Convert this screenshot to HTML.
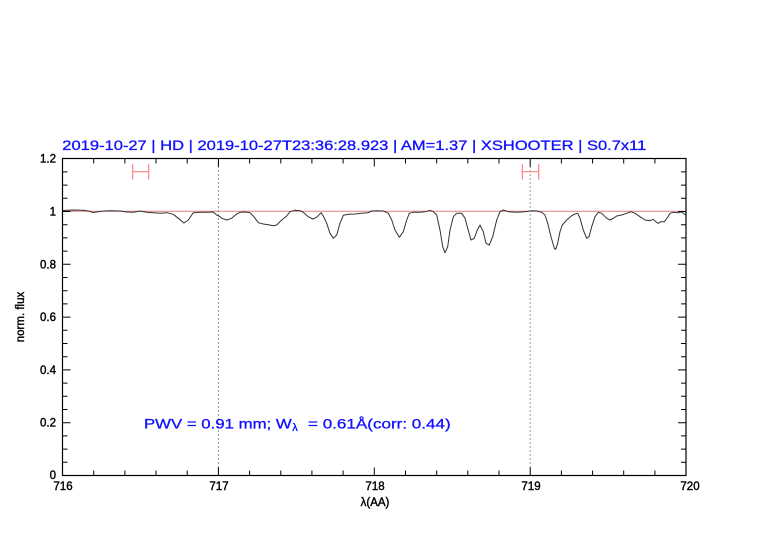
<!DOCTYPE html>
<html>
<head>
<meta charset="utf-8">
<style>
html,body{margin:0;padding:0;background:#fff;}
svg{display:block;}
text{font-family:"Liberation Sans",Arial,sans-serif;}
</style>
</head>
<body>
<svg width="782" height="542" viewBox="0 0 782 542" xmlns="http://www.w3.org/2000/svg">
<rect width="782" height="542" fill="#fff"/>

<!-- title -->
<text x="62.3" y="150" font-size="14" fill="#1010ff" stroke="#1010ff" stroke-width="0.3" textLength="584" lengthAdjust="spacingAndGlyphs">2019-10-27 | HD | 2019-10-27T23:36:28.923 | AM=1.37 | XSHOOTER | S0.7x11</text>

<!-- reference line y=1 -->
<line x1="62.5" y1="211.3" x2="686" y2="211.3" stroke="#e08080" stroke-width="1"/>

<!-- dotted verticals -->
<line x1="218.4" y1="158.5" x2="218.4" y2="475.5" stroke="#333" stroke-width="1" stroke-dasharray="1,3"/>
<line x1="530.2" y1="158.5" x2="530.2" y2="475.5" stroke="#333" stroke-width="1" stroke-dasharray="1,3"/>

<!-- red markers -->
<g stroke="#ff8080" stroke-width="1.2" fill="none">
<line x1="132.7" y1="164.3" x2="132.7" y2="179.5"/>
<line x1="148.7" y1="164.3" x2="148.7" y2="179.5"/>
<line x1="132.7" y1="171.7" x2="148.7" y2="171.7"/>
<line x1="522.3" y1="164.3" x2="522.3" y2="179.5"/>
<line x1="538.7" y1="164.3" x2="538.7" y2="179.5"/>
<line x1="522.3" y1="171.7" x2="538.7" y2="171.7"/>
</g>

<!-- spectrum -->
<polyline fill="none" stroke="#333" stroke-width="1" stroke-linejoin="round" points="62.7,210.6 66.7,210.3 73.3,210 83.3,210.2 88.3,211 93.3,212.5 98.3,211.7 103.3,211 110,210.7 120,211 126.7,212 133.3,212.3 140,211 146.7,212.3 153.3,212.7 160,213.3 166.7,212.7 173.3,214.3 178.3,218.3 184,223 188.3,220 193.3,212.7 200,212.3 206.7,212.3 213.3,212 216.7,215 220,216.7 221.7,218.3 226.7,220 231.7,218.3 236.7,214 240,212.3 245,212 250,212.7 253.3,216 258.3,222.7 263.3,224 268.3,224.7 273.3,225.7 276.7,225 281.7,220 286.7,216 290,211.7 295,210.3 300,210.7 303.3,212.3 308.3,216.7 312.7,219 316.7,217.3 321,212.7 323.3,216 326.7,223.3 330,233.3 333.3,238.3 336.7,235 340,223.3 343.3,215.3 348.3,214.3 355,214 361.7,213.3 368.3,212.7 371.7,211 376.7,210.7 383.3,211 388.3,213.3 391.7,220 395,230 399.3,237.3 403.3,231.7 406.7,220 409.3,213.3 413.3,212.3 420,212.3 425,211.7 430,210.3 433.3,211.7 436.7,215 440,230 442.7,246.7 445,252.7 447.7,246.7 450,230 453.3,216.7 456.7,213.3 461.7,213.3 465,218.3 467.7,228.3 471,240 474.3,238.3 477.3,230 480,225 483.3,231.7 486,243.3 489.3,245 492.7,236.7 496.7,220 500,211.7 503.3,210 508.3,211.7 516.7,212.3 525,211.7 531.7,210.7 536.7,211 541.7,212.3 545,215 547.7,223.3 551,236.7 554.3,248.3 555.7,249.3 557.7,243.3 560,231.7 562.3,225 566.7,220 571.7,215.7 575,214 577.7,213.3 580,218.3 583.3,230 586.7,238.3 589,236.7 591.7,226.7 595,216.7 598.3,212.3 601.7,213.3 606.7,218.3 610,220 613.3,218.3 616.7,216 621.7,215 626.7,213.3 631,211.7 635,213.3 640,216.7 645,220 650,220.7 653.3,219.3 655.7,221.7 658.3,223.3 661,221.7 664.3,221.7 667.7,217.3 670,213.3 673.3,212.3 678.3,212.7 681.7,212 684.3,214 686,215"/>

<!-- frame -->
<rect x="62.5" y="158.5" width="623.5" height="317" fill="none" stroke="#000" stroke-width="1.2"/>

<!-- ticks -->
<g stroke="#000" stroke-width="1">
<path d="M93.7 475.5v-5M124.9 475.5v-5M156.0 475.5v-5M187.2 475.5v-5
M249.6 475.5v-5M280.8 475.5v-5M311.9 475.5v-5M343.1 475.5v-5
M405.5 475.5v-5M436.7 475.5v-5M467.8 475.5v-5M499.0 475.5v-5
M561.4 475.5v-5M592.6 475.5v-5M623.7 475.5v-5M654.9 475.5v-5
M218.4 475.5v-8M374.3 475.5v-8M530.2 475.5v-8"/>
<path d="M93.7 158.5v5M124.9 158.5v5M156.0 158.5v5M187.2 158.5v5
M249.6 158.5v5M280.8 158.5v5M311.9 158.5v5M343.1 158.5v5
M405.5 158.5v5M436.7 158.5v5M467.8 158.5v5M499.0 158.5v5
M561.4 158.5v5M592.6 158.5v5M623.7 158.5v5M654.9 158.5v5
M218.4 158.5v8M374.3 158.5v8M530.2 158.5v8"/>
<path d="M62.5 462.3h5M62.5 449.1h5M62.5 435.9h5
M62.5 409.5h5M62.5 396.3h5M62.5 383.1h5
M62.5 356.7h5M62.5 343.5h5M62.5 330.3h5
M62.5 303.9h5M62.5 290.7h5M62.5 277.5h5
M62.5 251.1h5M62.5 237.9h5M62.5 224.7h5
M62.5 198.3h5M62.5 185.1h5M62.5 171.9h5
M62.5 422.7h8M62.5 369.9h8M62.5 317.1h8M62.5 264.3h8M62.5 211.5h8"/>
<path d="M686 462.3h-5M686 449.1h-5M686 435.9h-5
M686 409.5h-5M686 396.3h-5M686 383.1h-5
M686 356.7h-5M686 343.5h-5M686 330.3h-5
M686 303.9h-5M686 290.7h-5M686 277.5h-5
M686 251.1h-5M686 237.9h-5M686 224.7h-5
M686 198.3h-5M686 185.1h-5M686 171.9h-5
M686 422.7h-8M686 369.9h-8M686 317.1h-8M686 264.3h-8M686 211.5h-8"/>
</g>

<!-- y tick labels -->
<g font-size="11.5" fill="#000" stroke="#000" stroke-width="0.4" text-anchor="end">
<text x="56" y="479">0</text>
<text x="56" y="426.7">0.2</text>
<text x="56" y="373.9">0.4</text>
<text x="56" y="321.1">0.6</text>
<text x="56" y="268.3">0.8</text>
<text x="56" y="215.5">1</text>
<text x="56" y="162.7">1.2</text>
</g>

<!-- x tick labels -->
<g font-size="11.5" fill="#000" stroke="#000" stroke-width="0.4" text-anchor="middle">
<text x="63" y="490">716</text>
<text x="219" y="490">717</text>
<text x="375" y="490">718</text>
<text x="531" y="490">719</text>
<text x="690" y="490">720</text>
</g>

<!-- axis labels -->
<text x="375" y="506" font-size="11.5" fill="#000" stroke="#000" stroke-width="0.4" text-anchor="middle">λ(AA)</text>
<text x="0" y="0" font-size="11.5" fill="#000" stroke="#000" stroke-width="0.4" text-anchor="middle" transform="translate(24,317) rotate(-90)">norm. flux</text>

<!-- PWV annotation -->
<g fill="#1010ff" stroke="#1010ff" stroke-width="0.3" font-size="14">
<text x="144" y="428.3" textLength="147.7" lengthAdjust="spacingAndGlyphs">PWV = 0.91 mm; W</text>
<text x="292.3" y="431" font-size="11">λ</text>
<text x="308" y="428.3" textLength="142.7" lengthAdjust="spacingAndGlyphs">= 0.61Å(corr: 0.44)</text>
</g>
</svg>
</body>
</html>
